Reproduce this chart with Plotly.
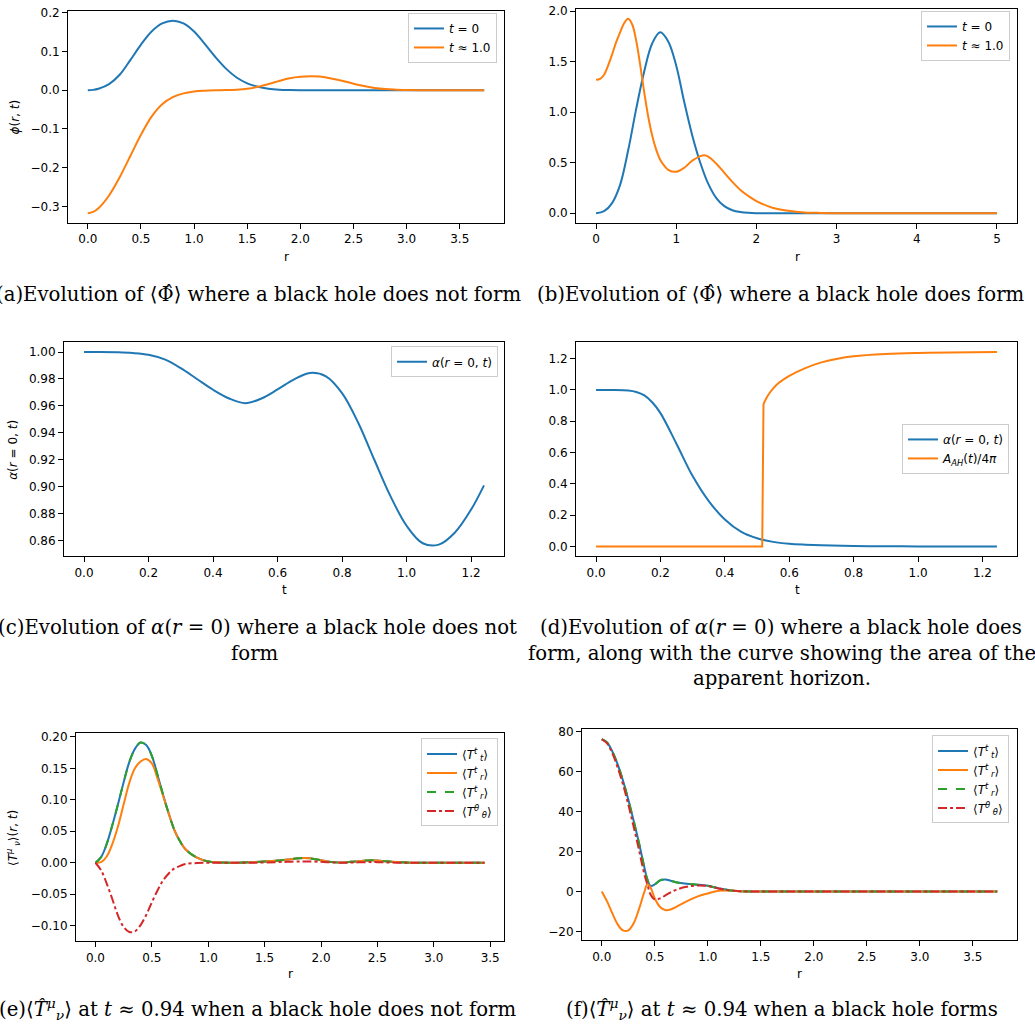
import plotly.graph_objects as go

W, H = 1035, 1027
BLUE, ORANGE, GREEN, RED = "#1f77b4", "#ff7f0e", "#2ca02c", "#d62728"

# ---------------- (a) ----------------
a_r = [0.0, 0.05, 0.1, 0.2, 0.3, 0.4, 0.5, 0.6, 0.7, 0.8, 0.9, 1.0, 1.1, 1.2, 1.3, 1.4, 1.5, 1.6,
       1.7, 1.8, 1.9, 2.0, 2.1, 2.2, 2.3, 2.4, 2.5, 2.6, 2.7, 2.8, 2.9, 3.0, 3.2, 3.4, 3.6, 3.73]
a_t0 = [0.0, 0.001, 0.004, 0.016, 0.040, 0.078, 0.118, 0.152, 0.173, 0.180, 0.173, 0.152, 0.120,
        0.086, 0.056, 0.033, 0.018, 0.009, 0.004, 0.0015, 0.0005, 0.0, 0.0, 0.0, 0.0, 0.0, 0.0,
        0.0, 0.0, 0.0, 0.0, 0.0, 0.0, 0.0, 0.0, 0.0]
a_t1 = [-0.318, -0.3145, -0.305, -0.272, -0.225, -0.170, -0.115, -0.068, -0.036, -0.018, -0.008,
        -0.003, -0.001, 0.0, 0.0005, 0.0015, 0.004, 0.009, 0.016, 0.024, 0.031, 0.035, 0.036,
        0.035, 0.030, 0.024, 0.017, 0.011, 0.006, 0.003, 0.0015, 0.0005, 0.0, 0.0, 0.0, 0.0]

# ---------------- (b) ----------------
b_r0 = [0.0, 0.1, 0.2, 0.3, 0.4, 0.5, 0.6, 0.7, 0.8, 0.9, 1.0, 1.1, 1.2, 1.3, 1.4, 1.5, 1.6, 1.7,
        1.8, 1.9, 2.0, 2.2, 2.5, 3.0, 3.5, 4.0, 4.5, 5.0]
b_t0 = [0.0, 0.02, 0.10, 0.28, 0.62, 1.03, 1.40, 1.68, 1.79, 1.70, 1.46, 1.10, 0.77, 0.50, 0.29,
        0.15, 0.07, 0.03, 0.012, 0.004, 0.001, 0.0, 0.0, 0.0, 0.0, 0.0, 0.0, 0.0]
b_r1 = [0.0, 0.05, 0.1, 0.15, 0.2, 0.25, 0.3, 0.35, 0.4, 0.45, 0.5, 0.55, 0.6, 0.65, 0.7, 0.75,
        0.8, 0.85, 0.9, 1.0, 1.1, 1.2, 1.3, 1.35, 1.4, 1.5, 1.6, 1.7, 1.8, 1.9, 2.0, 2.2, 2.4, 2.6,
        2.8, 3.0, 3.5, 4.0, 4.5, 5.0]
b_t1 = [1.32, 1.33, 1.37, 1.46, 1.57, 1.69, 1.79, 1.88, 1.925, 1.87, 1.71, 1.47, 1.20, 0.96,
        0.77, 0.63, 0.53, 0.47, 0.43, 0.41, 0.45, 0.52, 0.565, 0.574, 0.56, 0.49, 0.40, 0.31, 0.23,
        0.17, 0.12, 0.055, 0.024, 0.008, 0.003, 0.001, 0.0, 0.0, 0.0, 0.0]

# ---------------- (c) ----------------
c_t = [0.0, 0.05, 0.1, 0.15, 0.2, 0.25, 0.3, 0.35, 0.4, 0.45, 0.5, 0.55, 0.6, 0.65, 0.7, 0.75,
       0.8, 0.85, 0.9, 0.95, 1.0, 1.05, 1.1, 1.15, 1.2, 1.24]
c_alpha = [1.0, 1.0, 0.9998, 0.9993, 0.998, 0.9945, 0.988, 0.980, 0.972, 0.9655, 0.962, 0.9655,
           0.9722, 0.9795, 0.9845, 0.982, 0.9695, 0.9475, 0.920, 0.893, 0.871, 0.858, 0.857,
           0.866, 0.883, 0.901]

# ---------------- (d) ----------------
d_t = [0.0, 0.05, 0.1, 0.125, 0.15, 0.175, 0.2, 0.25, 0.3, 0.35, 0.4, 0.45, 0.5, 0.55, 0.6, 0.65,
       0.7, 0.8, 0.9, 1.0, 1.1, 1.245]
d_alpha = [1.0, 0.9995, 0.996, 0.987, 0.965, 0.92, 0.852, 0.655, 0.45, 0.29, 0.173, 0.095, 0.053,
           0.030, 0.018, 0.012, 0.008, 0.004, 0.002, 0.001, 0.0005, 0.0]
d_tjump = [0.0, 0.516, 0.52]
d_ajump = [0.0, 0.0, 0.91]
d_tah = [0.52, 0.53, 0.54, 0.56, 0.6, 0.65, 0.7, 0.75, 0.8, 0.9, 1.0, 1.1, 1.245]
d_area = [0.91, 0.952, 0.984, 1.032, 1.09, 1.14, 1.176, 1.200, 1.215, 1.229, 1.236, 1.240, 1.242]

# ---------------- (e) ----------------
e_r = [0.0, 0.05, 0.1, 0.15, 0.2, 0.25, 0.3, 0.35, 0.4, 0.45, 0.5, 0.55, 0.6, 0.65, 0.7, 0.75,
       0.8, 0.9, 1.0, 1.2, 1.4, 1.6, 1.7, 1.8, 1.85, 1.9, 2.0, 2.1, 2.2, 2.3, 2.4, 2.45, 2.5, 2.6,
       2.7, 2.8, 3.0, 3.2, 3.45]
e_Ttt = [0.0, 0.009, 0.030, 0.060, 0.093, 0.128, 0.160, 0.181, 0.191, 0.187, 0.170, 0.140, 0.108,
         0.078, 0.052, 0.034, 0.021, 0.008, 0.002, 0.0, 0.001, 0.003, 0.005, 0.007, 0.0075, 0.007,
         0.004, 0.001, 0.0005, 0.002, 0.0035, 0.004, 0.0035, 0.002, 0.0008, 0.0, 0.0, 0.0, 0.0]
e_Ttr = [0.0, 0.001, 0.010, 0.030, 0.058, 0.093, 0.127, 0.150, 0.161, 0.165, 0.158, 0.134, 0.106,
         0.078, 0.052, 0.034, 0.021, 0.008, 0.002, 0.0, 0.001, 0.003, 0.005, 0.007, 0.0075, 0.007,
         0.004, 0.001, 0.0005, 0.002, 0.0035, 0.004, 0.0035, 0.002, 0.0008, 0.0, 0.0, 0.0, 0.0]
e_Trr = [0.0, 0.009, 0.030, 0.060, 0.093, 0.128, 0.160, 0.181, 0.191, 0.187, 0.170, 0.140, 0.108,
         0.078, 0.052, 0.034, 0.021, 0.008, 0.002, 0.0, 0.001, 0.003, 0.005, 0.007, 0.0075, 0.007,
         0.004, 0.001, 0.0005, 0.002, 0.0035, 0.004, 0.0035, 0.002, 0.0008, 0.0, 0.0, 0.0, 0.0]
e_Thh = [0.0, -0.012, -0.033, -0.058, -0.084, -0.102, -0.110, -0.109, -0.099, -0.083, -0.063,
         -0.044, -0.028, -0.017, -0.009, -0.005, -0.002, -0.0005, 0.0, 0.0, 0.0, 0.001, 0.0015,
         0.002, 0.002, 0.002, 0.0015, 0.0005, 0.0, 0.0005, 0.001, 0.001, 0.001, 0.0005, 0.0, 0.0,
         0.0, 0.0, 0.0]

# ---------------- (f) ----------------
f_r = [0.0, 0.05, 0.1, 0.15, 0.2, 0.25, 0.3, 0.35, 0.4, 0.43, 0.46, 0.5, 0.55, 0.6, 0.65, 0.7,
       0.8, 0.9, 1.0, 1.1, 1.2, 1.3, 1.4, 1.6, 2.0, 2.5, 3.0, 3.5, 3.73]
f_Ttt = [76.1, 74.5, 70.0, 63.5, 55.5, 46.0, 35.5, 24.5, 12.5, 6.0, 2.8, 3.5, 5.5, 6.0, 5.3, 4.6,
         3.8, 3.4, 2.8, 1.6, 0.6, 0.15, 0.0, 0.0, 0.0, 0.0, 0.0, 0.0, 0.0]
f_Ttr = [0.0, -5.0, -11.0, -16.5, -19.5, -19.5, -16.0, -9.0, -0.5, 3.6, 2.0, -3.5, -7.8, -9.3,
         -9.0, -7.8, -5.0, -2.6, -1.0, 0.3, 0.5, 0.15, 0.0, 0.0, 0.0, 0.0, 0.0, 0.0, 0.0]
f_Trr = [76.1, 74.5, 70.0, 63.5, 55.5, 46.0, 35.5, 24.5, 12.5, 6.0, 2.8, 3.5, 5.5, 6.0, 5.3, 4.6,
         3.8, 3.4, 2.8, 1.6, 0.6, 0.15, 0.0, 0.0, 0.0, 0.0, 0.0, 0.0, 0.0]
f_Thh = [76.1, 74.0, 69.0, 62.0, 53.5, 43.5, 32.5, 21.0, 9.0, 3.5, -1.5, -4.0, -3.5, -2.0, -0.5,
         0.8, 2.3, 3.0, 2.7, 1.5, 0.6, 0.15, 0.0, 0.0, 0.0, 0.0, 0.0, 0.0, 0.0]

# ---------------- tick labels ----------------
a_xt = [0, 0.5, 1.0, 1.5, 2.0, 2.5, 3.0, 3.5]
a_xl = ["0.0", "0.5", "1.0", "1.5", "2.0", "2.5", "3.0", "3.5"]
a_yt = [-0.3, -0.2, -0.1, 0.0, 0.1, 0.2]
a_yl = ["\u22120.3", "\u22120.2", "\u22120.1", "0.0", "0.1", "0.2"]
b_xt = [0, 1, 2, 3, 4, 5]
b_xl = ["0", "1", "2", "3", "4", "5"]
b_yt = [0, 0.5, 1.0, 1.5, 2.0]
b_yl = ["0.0", "0.5", "1.0", "1.5", "2.0"]
c_xt = [0, 0.2, 0.4, 0.6, 0.8, 1.0, 1.2]
c_xl = ["0.0", "0.2", "0.4", "0.6", "0.8", "1.0", "1.2"]
c_yt = [0.86, 0.88, 0.90, 0.92, 0.94, 0.96, 0.98, 1.00]
c_yl = ["0.86", "0.88", "0.90", "0.92", "0.94", "0.96", "0.98", "1.00"]
d_yt = [0, 0.2, 0.4, 0.6, 0.8, 1.0, 1.2]
d_yl = ["0.0", "0.2", "0.4", "0.6", "0.8", "1.0", "1.2"]
e_yt = [-0.10, -0.05, 0.0, 0.05, 0.10, 0.15, 0.20]
e_yl = ["\u22120.10", "\u22120.05", "0.00", "0.05", "0.10", "0.15", "0.20"]
f_yt = [-20, 0, 20, 40, 60, 80]
f_yl = ["\u221220", "0", "20", "40", "60", "80"]

# ---------------- labels ----------------
lab_t0 = "<i>t</i> = 0"
lab_t1 = "<i>t</i> \u2248 1.0"
lab_alpha = "<i>\u03b1</i>(<i>r</i> = 0, <i>t</i>)"
lab_area = "<i>A</i><sub><i>AH</i></sub>(<i>t</i>)/4<i>\u03c0</i>"
lab_Ttt = "\u27e8<i>T</i><sup><i>t</i></sup><sub> <i>t</i></sub>\u27e9"
lab_Ttr = "\u27e8<i>T</i><sup><i>t</i></sup><sub> <i>r</i></sub>\u27e9"
lab_Thh = "\u27e8<i>T</i><sup><i>\u03b8</i></sup><sub> <i>\u03b8</i></sub>\u27e9"

captions = [
    ("(a)Evolution of \u27e8\u03a6\u0302\u27e9 where a black hole does not form", 258, 291),
    ("(b)Evolution of \u27e8\u03a6\u0302\u27e9 where a black hole does form", 781, 291),
    ("(c)Evolution of <i>\u03b1</i>(<i>r</i> = 0) where a black hole does not", 257, 626),
    ("form", 255, 652),
    ("(d)Evolution of <i>\u03b1</i>(<i>r</i> = 0) where a black hole does", 781, 626),
    ("form, along with the curve showing the area of the", 782, 652),
    ("apparent horizon.", 782, 677),
    ("(e)\u27e8<i>T\u0302</i><sup><i>\u03bc</i></sup><sub><i>\u03bd</i></sub>\u27e9 at <i>t</i> \u2248 0.94 when a black hole does not form", 258, 1009),
    ("(f)\u27e8<i>T\u0302</i><sup><i>\u03bc</i></sup><sub><i>\u03bd</i></sub>\u27e9 at <i>t</i> \u2248 0.94 when a black hole forms", 782, 1009),
]


def xd(a, b):
    return [a / W, b / W]


def yd(top, bottom):
    return [1 - bottom / H, 1 - top / H]


fig = go.Figure()


def add(x, y, name, color, ax, leg, dash="solid", shape="spline", show=True):
    fig.add_trace(go.Scatter(
        x=x, y=y, name=name, mode="lines", showlegend=show,
        line=dict(color=color, width=2, dash=dash, shape=shape, smoothing=1.0),
        xaxis="x" + ax, yaxis="y" + ax, legend=leg))


add(a_r, a_t0, lab_t0, BLUE, "", "legend")
add(a_r, a_t1, lab_t1, ORANGE, "", "legend")
add(b_r0, b_t0, lab_t0, BLUE, "2", "legend2")
add(b_r1, b_t1, lab_t1, ORANGE, "2", "legend2")
add(c_t, c_alpha, lab_alpha, BLUE, "3", "legend3")
add(d_t, d_alpha, lab_alpha, BLUE, "4", "legend4")
add(d_tjump, d_ajump, lab_area, ORANGE, "4", "legend4", shape="linear", show=False)
add(d_tah, d_area, lab_area, ORANGE, "4", "legend4")
add(e_r, e_Ttt, lab_Ttt, BLUE, "5", "legend5")
add(e_r, e_Ttr, lab_Ttr, ORANGE, "5", "legend5")
add(e_r, e_Trr, lab_Ttr, GREEN, "5", "legend5", dash="dash")
add(e_r, e_Thh, lab_Thh, RED, "5", "legend5", dash="dashdot")
add(f_r, f_Ttt, lab_Ttt, BLUE, "6", "legend6")
add(f_r, f_Ttr, lab_Ttr, ORANGE, "6", "legend6")
add(f_r, f_Trr, lab_Ttr, GREEN, "6", "legend6", dash="dash")
add(f_r, f_Thh, lab_Thh, RED, "6", "legend6", dash="dashdot")

tickfont = dict(family="DejaVu Sans", size=12, color="black")


def axis(domain, rng, tv, tt, anchor):
    return dict(domain=domain, range=rng, tickvals=tv, ticktext=tt, anchor=anchor,
                showline=True, linecolor="black", linewidth=1, mirror=True,
                ticks="outside", ticklen=5, tickwidth=1, tickcolor="black",
                showgrid=False, zeroline=False, tickfont=tickfont, fixedrange=True)


layout = dict(
    width=W, height=H, margin=dict(l=0, r=0, t=0, b=0),
    paper_bgcolor="white", plot_bgcolor="white",
    font=dict(family="DejaVu Sans", size=12, color="black"),
    xaxis=axis(xd(68, 504), [-0.1865, 3.9165], a_xt, a_xl, "y"),
    yaxis=axis(yd(6, 219), [-0.343, 0.205], a_yt, a_yl, "x"),
    xaxis2=axis(xd(576, 1017), [-0.25, 5.25], b_xt, b_xl, "y2"),
    yaxis2=axis(yd(4, 219), [-0.096, 2.021], b_yt, b_yl, "x2"),
    xaxis3=axis(xd(64, 504), [-0.062, 1.302], c_xt, c_xl, "y3"),
    yaxis3=axis(yd(339, 554), [0.8483, 1.0072], c_yt, c_yl, "x3"),
    xaxis4=axis(xd(576, 1017), [-0.0623, 1.3073], c_xt, c_xl, "y4"),
    yaxis4=axis(yd(339, 554), [-0.0621, 1.3041], d_yt, d_yl, "x4"),
    xaxis5=axis(xd(76, 504), [-0.1725, 3.6225], a_xt, a_xl, "y5"),
    yaxis5=axis(yd(732, 941), [-0.125, 0.2055], e_yt, e_yl, "x5"),
    xaxis6=axis(xd(582, 1017), [-0.1865, 3.9165], a_xt, a_xl, "y6"),
    yaxis6=axis(yd(728, 940), [-24.5, 81.0], f_yt, f_yl, "x6"),
)

legpos = {"legend": (497, 8), "legend2": (1010, 6), "legend3": (498, 343),
          "legend4": (1009, 421), "legend5": (498, 737), "legend6": (1009, 734)}
for k, (lx, ly) in legpos.items():
    layout[k] = dict(x=lx / W, y=1 - ly / H, xanchor="right", yanchor="top",
                     bgcolor="rgba(255,255,255,0.8)", bordercolor="#cccccc", borderwidth=1,
                     font=dict(family="DejaVu Sans", size=12, color="black"),
                     itemwidth=30, tracegroupgap=0)

ann = []
for txt, x, y in [("r", 286, 253), ("r", 797, 253), ("t", 284, 588), ("t", 797, 588),
                  ("r", 290, 974), ("r", 799, 974)]:
    ann.append(dict(text=txt, x=x / W, y=1 - y / H, xref="paper", yref="paper",
                    showarrow=False, xanchor="center", yanchor="middle",
                    font=dict(family="DejaVu Sans", size=12, color="black")))
for txt, x, y in [("<i>\u03d5</i>(<i>r</i>, <i>t</i>)", 15, 113),
                  ("<i>\u03b1</i>(<i>r</i> = 0, <i>t</i>)", 13, 447),
                  ("\u27e8<i>T</i><sup><i>\u03bc</i></sup><sub> <i>\u03bd</i></sub>\u27e9(<i>r</i>, <i>t</i>)", 13, 837)]:
    ann.append(dict(text=txt, x=x / W, y=1 - y / H, xref="paper", yref="paper",
                    showarrow=False, xanchor="center", yanchor="middle", textangle=-90,
                    font=dict(family="DejaVu Sans", size=12, color="black")))
for txt, x, y in captions:
    ann.append(dict(text=txt, x=x / W, y=1 - y / H, xref="paper", yref="paper",
                    showarrow=False, xanchor="center", yanchor="middle",
                    font=dict(family="DejaVu Serif", size=19.7, color="black")))
layout["annotations"] = ann

fig.update_layout(**layout)
fig.write_html("out.html", config={"displayModeBar": False, "staticPlot": True},
               post_script="document.body.style.margin='0px';document.body.style.overflow='hidden';")
